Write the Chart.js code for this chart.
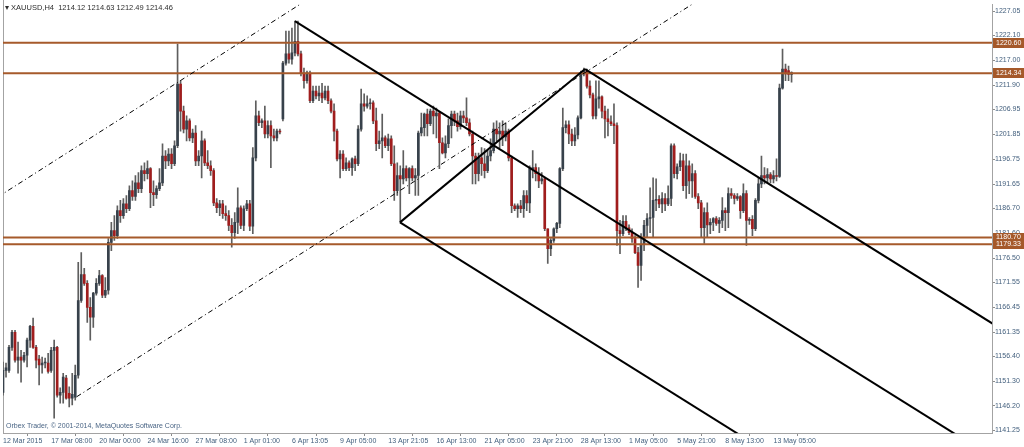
<!DOCTYPE html>
<html>
<head>
<meta charset="utf-8">
<title>XAUUSD,H4</title>
<script src="https://cdn.jsdelivr.net/npm/chart.js"></script>
<style>
  html, body { margin: 0; padding: 0; background: #fff; }
  .wrap { position: relative; width: 1024px; height: 447px; }
  .head { position: absolute; left: 5px; top: 3px; font: 7.5px 'Liberation Sans', Arial, sans-serif; color: #2d2d2d; white-space: pre; }
  .copy { position: absolute; left: 6px; top: 422px; font: 7px 'Liberation Sans', Arial, sans-serif; color: #4a6585; }
</style>
</head>
<body>
<div class="wrap">
  <canvas id="chart"></canvas>
  <div class="head">▾ XAUUSD,H4  1214.12 1214.63 1212.49 1214.46</div>
  <div class="copy">Orbex Trader, © 2001-2014, MetaQuotes Software Corp.</div>
</div>
<script>
// H4 bars, index 0 = 12 Mar 2015 00:00
const opens = [
  1149.0,1153.5,1153.5,1158.2,1161.3,1155.6,1156.2,1155.6,1156.6,1159.7,
  1162.5,1158.2,1155.8,1154.6,1155.0,1155.0,1153.5,1157.6,1158.2,1148.4,
  1149.0,1151.9,1148.8,1147.8,1148.0,1152.5,1167.8,1173.1,1171.3,1166.4,
  1164.4,1169.3,1171.3,1172.9,1168.9,1169.9,1179.7,1182.1,1181.1,1186.2,
  1185.2,1187.6,1186.6,1190.3,1189.1,1191.9,1190.7,1194.4,1193.8,1194.8,
  1189.9,1189.5,1190.7,1191.9,1197.4,1196.4,1197.8,1195.8,1199.5,1212.1,
  1206.6,1202.9,1204.6,1201.1,1202.1,1196.4,1197.4,1200.5,1196.0,1195.4,
  1194.4,1187.8,1186.8,1187.6,1185.6,1185.2,1183.2,1181.7,1183.8,1186.8,
  1183.2,1186.6,1187.6,1183.0,1197.0,1205.6,1204.2,1204.6,1201.9,1203.6,
  1201.5,1201.1,1202.5,1205.0,1216.4,1218.3,1217.2,1218.5,1220.9,1218.3,
  1214.4,1212.8,1214.4,1208.7,1210.7,1209.7,1210.3,1209.3,1210.7,1208.7,
  1206.6,1202.5,1196.8,1197.8,1194.8,1196.0,1195.0,1196.8,1195.8,1202.9,
  1208.1,1207.6,1208.1,1208.3,1204.6,1199.9,1200.5,1201.1,1199.5,1200.9,
  1195.8,1190.3,1193.4,1192.7,1194.8,1192.9,1194.8,1192.9,1193.4,1202.1,
  1203.2,1206.0,1204.0,1206.6,1205.6,1206.2,1200.1,1198.0,1199.9,1203.6,
  1206.0,1204.6,1203.4,1205.6,1205.2,1204.2,1201.9,1197.4,1193.8,1197.0,
  1195.8,1194.4,1197.4,1198.5,1202.9,1201.9,1202.5,1201.3,1202.5,1197.0,
  1187.2,1186.6,1187.2,1186.6,1189.3,1187.8,1194.8,1195.0,1193.8,1192.3,
  1192.7,1182.5,1178.4,1180.1,1182.5,1183.6,1194.8,1203.2,1203.8,1201.9,
  1200.5,1201.7,1205.2,1214.2,1214.8,1211.7,1209.9,1205.6,1209.1,1209.5,
  1206.6,1205.0,1204.4,1204.0,1203.6,1182.1,1181.5,1184.0,1182.7,1181.7,
  1180.5,1177.6,1175.0,1179.3,1183.2,1184.6,1184.8,1188.3,1188.5,1187.6,
  1188.7,1187.6,1188.7,1199.5,1193.8,1195.2,1196.4,1191.3,1195.4,1192.3,
  1193.8,1189.1,1187.8,1182.7,1185.8,1183.3,1183.8,1184.6,1183.6,1184.2,
  1186.2,1185.8,1189.7,1189.3,1188.7,1189.1,1186.2,1189.7,1184.2,1184.4,
  1182.5,1188.3,1191.7,1193.4,1192.9,1193.6,1192.7,1193.4,1193.2,1211.3,
  1215.2,1214.9,1214.12
];
const highs = [
  1155.2,1155.0,1158.6,1161.7,1161.7,1159.3,1157.6,1157.2,1160.1,1162.7,
  1164.2,1158.6,1156.6,1156.2,1156.0,1157.0,1158.2,1159.7,1158.4,1149.9,
  1152.9,1152.5,1150.1,1152.9,1154.6,1175.6,1177.6,1174.4,1171.9,1168.4,
  1169.5,1172.3,1174.0,1173.1,1172.5,1180.5,1183.8,1185.2,1187.2,1188.3,
  1188.7,1189.3,1191.3,1192.3,1193.4,1194.0,1195.4,1196.0,1196.4,1195.0,
  1192.3,1191.3,1194.8,1199.9,1198.5,1198.9,1198.9,1200.5,1220.3,1212.8,
  1207.6,1205.6,1205.0,1202.9,1203.6,1198.5,1202.5,1200.9,1198.5,1196.4,
  1194.8,1188.7,1188.3,1188.3,1187.2,1186.2,1184.6,1185.8,1190.9,1187.2,
  1187.2,1188.3,1188.3,1199.1,1208.7,1206.6,1205.0,1207.6,1204.6,1204.6,
  1202.9,1202.9,1202.9,1216.8,1223.0,1223.0,1223.6,1225.0,1225.0,1218.9,
  1215.4,1214.8,1214.8,1211.7,1211.7,1211.7,1212.3,1211.7,1211.7,1209.1,
  1208.1,1202.9,1198.5,1198.5,1197.0,1196.4,1197.0,1197.4,1203.6,1211.1,
  1210.1,1209.7,1209.1,1208.7,1207.2,1202.5,1206.0,1201.5,1201.9,1201.5,
  1199.5,1196.0,1195.4,1198.5,1195.4,1195.0,1195.4,1194.8,1202.5,1206.2,
  1206.2,1207.0,1207.0,1207.6,1207.2,1206.4,1201.1,1201.5,1205.0,1206.6,
  1206.6,1206.2,1206.6,1206.6,1209.3,1205.0,1202.5,1198.0,1198.0,1199.1,
  1198.9,1198.5,1200.9,1204.2,1204.6,1204.2,1204.6,1204.2,1202.9,1197.4,
  1187.6,1187.6,1188.3,1190.3,1190.3,1195.4,1198.5,1195.8,1195.0,1194.0,
  1192.9,1182.5,1180.5,1182.7,1183.8,1195.0,1207.2,1204.6,1204.6,1202.9,
  1203.2,1205.6,1214.8,1215.4,1215.2,1212.8,1210.3,1212.8,1212.8,1209.7,
  1207.6,1207.0,1205.6,1208.1,1204.2,1184.2,1185.2,1185.2,1183.3,1182.5,
  1181.1,1178.7,1181.5,1184.2,1185.6,1190.9,1192.9,1192.7,1189.3,1189.9,
  1189.7,1191.3,1199.9,1199.9,1195.8,1198.0,1197.8,1197.8,1196.4,1195.8,
  1194.4,1189.7,1188.3,1186.8,1187.8,1184.6,1184.8,1185.0,1184.8,1188.9,
  1186.8,1190.9,1190.7,1189.7,1189.7,1189.3,1191.7,1190.3,1184.8,1185.2,
  1188.7,1192.9,1197.4,1195.0,1194.8,1194.0,1194.4,1196.8,1212.1,1219.3,
  1216.2,1215.8,1214.63
];
const lows = [
  1148.4,1152.1,1153.1,1157.6,1155.2,1152.9,1151.1,1155.2,1154.2,1158.2,
  1158.0,1154.0,1150.5,1152.9,1154.0,1152.9,1153.1,1143.7,1148.0,1146.8,
  1146.8,1147.6,1146.0,1146.4,1147.4,1151.9,1167.4,1170.9,1163.3,1159.7,
  1162.3,1168.9,1170.9,1168.4,1168.4,1169.1,1178.0,1180.1,1180.5,1183.8,
  1184.6,1185.8,1186.2,1188.3,1188.3,1189.9,1189.9,1192.3,1192.7,1186.8,
  1187.2,1188.7,1190.3,1191.3,1194.8,1195.4,1194.8,1195.4,1199.1,1202.5,
  1202.1,1200.5,1200.5,1200.1,1195.4,1195.4,1192.9,1195.4,1194.8,1193.4,
  1187.2,1185.8,1185.2,1184.6,1184.2,1182.1,1178.7,1180.5,1181.5,1182.5,
  1182.1,1186.2,1182.1,1181.5,1196.4,1203.6,1203.2,1201.1,1201.1,1195.0,
  1200.5,1200.5,1201.9,1204.6,1216.0,1216.4,1216.2,1217.9,1217.9,1213.8,
  1211.3,1212.3,1208.3,1208.3,1209.1,1208.7,1208.3,1208.9,1208.1,1206.2,
  1200.5,1196.4,1192.9,1194.4,1194.4,1194.4,1193.4,1194.4,1195.4,1202.5,
  1206.6,1207.2,1207.0,1204.0,1198.5,1198.9,1197.0,1199.1,1198.5,1195.4,
  1188.3,1189.3,1183.8,1191.7,1192.3,1189.7,1192.3,1189.3,1189.3,1201.5,
  1201.5,1201.5,1203.6,1201.9,1201.1,1194.8,1197.8,1197.0,1199.1,1201.1,
  1203.6,1202.5,1202.9,1204.2,1203.6,1201.5,1191.7,1191.7,1192.3,1193.4,
  1192.9,1194.0,1196.4,1198.0,1200.5,1199.1,1199.5,1200.5,1196.4,1185.8,
  1186.2,1184.8,1185.8,1184.8,1186.2,1185.8,1192.9,1192.3,1190.9,1191.7,
  1182.1,1175.4,1177.0,1179.7,1181.7,1182.7,1194.4,1202.1,1199.9,1199.5,
  1199.5,1200.9,1205.0,1213.8,1211.3,1209.3,1205.0,1205.0,1207.2,1205.2,
  1201.1,1201.5,1203.6,1199.9,1179.1,1177.4,1181.1,1182.1,1181.3,1179.7,
  1177.4,1170.5,1171.9,1178.0,1180.7,1181.7,1180.7,1186.2,1186.8,1185.8,
  1186.2,1187.2,1187.2,1192.9,1192.7,1194.4,1190.3,1188.7,1189.7,1188.9,
  1188.7,1186.6,1180.7,1179.5,1180.7,1181.5,1182.1,1183.2,1181.7,1182.7,
  1182.1,1182.7,1188.7,1187.6,1188.3,1184.6,1185.8,1179.1,1183.4,1181.1,
  1182.1,1187.8,1190.9,1191.7,1191.9,1191.9,1191.9,1192.3,1193.0,1211.1,
  1212.8,1212.8,1212.49
];
const closes = [
  1153.5,1154.0,1158.2,1161.3,1155.6,1156.2,1155.6,1156.6,1159.7,1162.5,
  1158.2,1155.6,1154.6,1155.0,1155.2,1153.3,1157.6,1158.2,1148.4,1149.0,
  1152.1,1147.8,1147.8,1148.6,1152.5,1167.8,1173.1,1171.3,1166.4,1164.4,
  1169.3,1171.3,1172.9,1168.9,1169.9,1179.7,1182.1,1181.1,1186.2,1185.2,
  1187.6,1186.6,1190.3,1189.1,1191.9,1190.7,1194.4,1193.8,1194.8,1189.9,
  1189.5,1190.7,1191.9,1197.4,1196.4,1197.8,1195.8,1199.5,1212.1,1206.6,
  1202.9,1204.6,1201.1,1202.1,1196.4,1197.4,1200.5,1196.0,1195.4,1194.4,
  1187.8,1186.8,1187.6,1185.6,1185.2,1183.2,1181.7,1183.8,1186.8,1183.2,
  1186.6,1187.6,1183.0,1197.0,1205.6,1204.2,1204.6,1201.9,1203.6,1201.5,
  1201.1,1202.5,1202.3,1216.4,1218.3,1217.2,1218.5,1220.9,1218.3,1214.4,
  1212.8,1214.4,1208.7,1210.7,1209.7,1210.3,1209.3,1210.7,1208.7,1206.6,
  1202.5,1196.8,1197.8,1194.8,1196.0,1195.0,1196.8,1195.8,1202.9,1208.1,
  1207.6,1208.1,1208.3,1204.6,1199.9,1200.5,1201.1,1199.5,1200.9,1195.8,
  1190.3,1193.4,1192.7,1194.8,1192.9,1194.8,1192.9,1193.4,1202.1,1203.2,
  1206.0,1204.0,1206.6,1205.6,1206.2,1200.1,1198.0,1199.9,1203.6,1206.0,
  1204.6,1203.4,1205.6,1205.2,1204.2,1201.9,1197.4,1193.8,1197.0,1195.8,
  1194.4,1197.4,1198.5,1202.9,1201.9,1202.5,1201.3,1202.5,1197.0,1187.2,
  1186.6,1187.2,1186.6,1189.3,1187.8,1194.8,1195.0,1193.8,1192.3,1192.7,
  1182.5,1178.4,1180.1,1182.5,1183.6,1194.8,1203.2,1203.8,1201.9,1200.5,
  1201.7,1205.2,1214.2,1214.8,1211.7,1209.9,1205.6,1209.1,1209.5,1206.6,
  1205.0,1204.4,1204.0,1203.6,1182.1,1181.5,1184.0,1182.7,1181.7,1180.5,
  1177.6,1175.0,1179.3,1183.2,1184.6,1184.8,1188.3,1188.5,1187.6,1188.7,
  1187.6,1188.7,1199.5,1193.8,1195.2,1196.4,1191.3,1195.4,1192.3,1193.8,
  1189.1,1187.8,1182.7,1185.8,1183.3,1183.8,1184.6,1183.6,1184.2,1186.2,
  1185.8,1189.7,1189.3,1188.7,1189.1,1186.2,1189.7,1184.2,1184.4,1182.5,
  1188.3,1191.7,1193.4,1192.9,1193.6,1192.7,1193.4,1193.2,1211.3,1215.2,
  1214.2,1214.1,1214.46
];

// time axis: a label every 16 bars
const xTickIdx = [0,16,32,48,64,80,96,112,128,144,160,176,192,208,224,240,256];
const xTickLabels = ['12 Mar 2015','17 Mar 08:00','20 Mar 00:00','24 Mar 16:00','27 Mar 08:00',
  '1 Apr 01:00','6 Apr 13:05','9 Apr 05:00','13 Apr 21:05','16 Apr 13:00','21 Apr 05:00',
  '23 Apr 21:00','28 Apr 13:00','1 May 05:00','5 May 21:00','8 May 13:00','13 May 05:00'];
const yTicks = [1227.05,1222.10,1217.00,1211.90,1206.95,1201.85,1196.75,1191.65,1186.70,
  1181.60,1176.50,1171.55,1166.45,1161.35,1156.40,1151.30,1146.20,1141.25];

// horizontal levels
const levels = [1220.60, 1214.34, 1180.70, 1179.33];

// drawn objects: [bar index, price]
const chanUpper = [[-5, 1187.7], [110, 1232.9]];
const chanLower = [[24.5, 1148.1], [240, 1232.8]];
const forkMedian = [[97.0, 1225.0], [330, 1135.2]];
const forkLow = [[131.9, 1183.8], [330, 1107.4]];
const forkHigh = [[193.4, 1215.2], [330, 1162.6]];
const forkHandle = [[131.9, 1183.8], [193.4, 1215.2]];

const txt = '#44607e';
const font = { family: "'Liberation Sans', Arial, sans-serif", size: 7 };

const pts = a => a.map(p => ({ x: p[0], y: p[1] }));
const lineDs = (a, dash) => ({
  type: 'line', data: pts(a), borderColor: '#000', borderWidth: dash ? 1 : 2,
  borderDash: dash ? [5, 3, 1, 3] : [], pointRadius: 0, tension: 0, clip: 0, order: 0
});

const levelTags = {
  id: 'levelTags',
  beforeDatasetsDraw(chart) {
    const { ctx, chartArea } = chart;
    ctx.save();
    ctx.strokeStyle = '#a3a3a3';
    ctx.lineWidth = 1;
    ctx.beginPath();
    ctx.moveTo(chartArea.left + 0.5, 0);
    ctx.lineTo(chartArea.left + 0.5, chartArea.bottom);
    ctx.stroke();
    ctx.restore();
  },
  afterDraw(chart) {
    const { ctx, chartArea, scales: { y } } = chart;
    ctx.save();
    ctx.font = "7px 'Liberation Sans', Arial, sans-serif";
    ctx.textBaseline = 'middle';
    levels.forEach(v => {
      const py = y.getPixelForValue(v);
      ctx.fillStyle = '#a5592a';
      ctx.fillRect(chartArea.right + 1, Math.round(py) - 5, 31, 10);
      ctx.fillStyle = '#ffffff';
      ctx.fillText(v.toFixed(2), chartArea.right + 4, py);
    });
    ctx.restore();
  }
};

new Chart(document.getElementById('chart'), {
  type: 'bar',
  data: {
    datasets: [
      lineDs(chanUpper, true),
      lineDs(chanLower, true),
      lineDs(forkMedian),
      lineDs(forkLow),
      lineDs(forkHigh),
      lineDs(forkHandle),
      ...levels.map(v => ({
        type: 'line', data: [{ x: -10, y: v }, { x: 340, y: v }],
        borderColor: '#a65a2b', borderWidth: 2, pointRadius: 0, clip: 0, order: 1
      })),
      {
        data: opens.map((o, i) => ({ x: i, y: [o, closes[i]] })),
        backgroundColor: opens.map((o, i) => closes[i] >= o ? '#37414b' : '#a01d1d'),
        barThickness: 2, minBarLength: 1, grouped: false, order: 2
      },
      {
        data: highs.map((h, i) => ({ x: i, y: [lows[i], h] })),
        backgroundColor: '#5e5e5e', barThickness: 1, grouped: false, order: 3
      }
    ]
  },
  options: {
    responsive: true,
    maintainAspectRatio: false,
    animation: false,
    events: [],
    layout: { padding: { left: 3, top: 3, right: 0, bottom: 0 } },
    plugins: { legend: { display: false }, tooltip: { enabled: false } },
    scales: {
      x: {
        type: 'linear', min: 0, max: 328.6, offset: false,
        afterBuildTicks: s => { s.ticks = xTickIdx.map(v => ({ value: v })); },
        afterFit: s => { s.height = 14; },
        grid: { drawOnChartArea: false, drawTicks: true, tickLength: 3, tickColor: '#8c8c8c' },
        border: { color: '#a3a3a3', width: 1 },
        ticks: {
          autoSkip: false, maxRotation: 0, minRotation: 0, align: 'start', padding: 1,
          color: txt, font, callback: (v, i) => xTickLabels[i]
        }
      },
      y: {
        position: 'right', min: 1140.67, max: 1228.48,
        afterBuildTicks: s => { s.ticks = yTicks.map(v => ({ value: v })); },
        afterFit: s => { s.width = 32; },
        grid: { drawOnChartArea: false, drawTicks: true, tickLength: 3, tickColor: '#8c8c8c' },
        border: { color: '#a3a3a3', width: 1 },
        ticks: { autoSkip: false, padding: 0, color: txt, font, callback: v => v.toFixed(2) }
      }
    }
  },
  plugins: [levelTags]
});
</script>
</body>
</html>
